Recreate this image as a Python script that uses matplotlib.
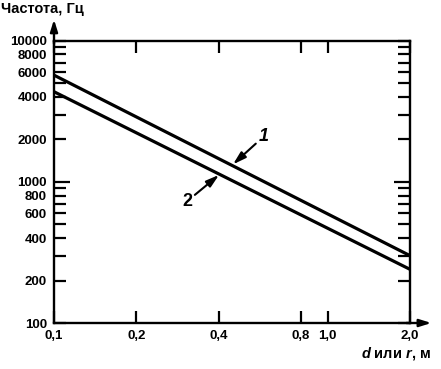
import matplotlib
matplotlib.use("Agg")
import matplotlib.pyplot as plt
from matplotlib.ticker import FixedLocator, FixedFormatter, NullLocator

plt.rcParams['font.family'] = ['Liberation Sans', 'DejaVu Sans']
plt.rcParams['mathtext.fontset'] = 'custom'
plt.rcParams['mathtext.it'] = 'Liberation Sans:italic:bold'
plt.rcParams['mathtext.rm'] = 'Liberation Sans:bold'

# data
distance = [0.1, 2.0]
curve1 = [5700, 300]
curve2 = [4350, 240]
x_ticks = [0.1, 0.2, 0.4, 0.8, 1.0, 2.0]
x_labels = ['0,1', '0,2', '0,4', '0,8', '1,0', '2,0']
y_major = [1000]
y_major_labels = ['1000']
y_ticks = [100, 200, 300, 400, 500, 600, 700, 800, 900,
           2000, 3000, 4000, 5000, 6000, 7000, 8000, 9000, 10000]
y_labels = ['100', '200', '', '400', '', '600', '', '800', '',
            '2000', '', '4000', '', '6000', '', '8000', '', '10000']

fig = plt.figure(figsize=(4.41, 3.69), dpi=100)
ax = fig.add_axes([54/441, 1-323/369, (410-54)/441, (323-40.7)/369])
ax.set_xscale('log')
ax.set_yscale('log')
ax.set_xlim(0.1, 2.0)
ax.set_ylim(100, 10000)

ax.plot(distance, curve1, color='black', lw=2.3, solid_capstyle='butt')
ax.plot(distance, curve2, color='black', lw=2.3, solid_capstyle='butt')

ax.xaxis.set_major_locator(FixedLocator(x_ticks))
ax.xaxis.set_major_formatter(FixedFormatter(x_labels))
ax.xaxis.set_minor_locator(NullLocator())
ax.yaxis.set_major_locator(FixedLocator(y_major))
ax.yaxis.set_major_formatter(FixedFormatter(y_major_labels))
ax.yaxis.set_minor_locator(FixedLocator(y_ticks))
ax.yaxis.set_minor_formatter(FixedFormatter(y_labels))

for s in ax.spines.values():
    s.set_linewidth(1.7)

ax.tick_params(axis='both', which='both', direction='in', width=1.6,
               top=True, right=True, labelsize=9.5, pad=5)
ax.tick_params(axis='x', which='major', length=8.5)
ax.tick_params(axis='y', which='minor', length=8.5)
ax.tick_params(axis='y', which='major', length=11.5)
for lab in (ax.get_xticklabels() + ax.get_yticklabels()
            + ax.get_yticklabels(minor=True)):
    lab.set_fontweight('bold')

# arrows on axes
ax.annotate('', xy=(0, 1.075), xytext=(0, 0.99), xycoords='axes fraction',
            arrowprops=dict(arrowstyle='-|>,head_length=0.7,head_width=0.22',
                            color='black', lw=1.7, shrinkA=0, shrinkB=0),
            annotation_clip=False)
ax.annotate('', xy=(1.06, 0), xytext=(0.99, 0), xycoords='axes fraction',
            arrowprops=dict(arrowstyle='-|>,head_length=0.7,head_width=0.22',
                            color='black', lw=1.7, shrinkA=0, shrinkB=0),
            annotation_clip=False)

# curve labels
ax.annotate('1', xy=(0.451, 1330), xytext=(22, 20), textcoords='offset points',
            fontsize=13, fontstyle='italic', fontweight='bold',
            ha='center', va='center',
            arrowprops=dict(arrowstyle='-|>,head_length=0.6,head_width=0.18',
                            color='black', lw=1.5, shrinkA=0, shrinkB=0))
ax.annotate('2', xy=(0.401, 1120), xytext=(-23, -19), textcoords='offset points',
            fontsize=13, fontweight='bold', ha='center', va='center',
            arrowprops=dict(arrowstyle='-|>,head_length=0.6,head_width=0.18',
                            color='black', lw=1.5, shrinkA=0, shrinkB=0))

fig.text(1/441, 1-9/369, 'Частота, Гц', fontsize=10.5, fontweight='bold',
         ha='left', va='center')
fig.text(431/441, 1-353/369, r'$\mathit{d}$ или $\mathit{r}$, м', fontsize=10.5,
         fontweight='bold', ha='right', va='center')

fig.savefig('out.png', dpi=100)
